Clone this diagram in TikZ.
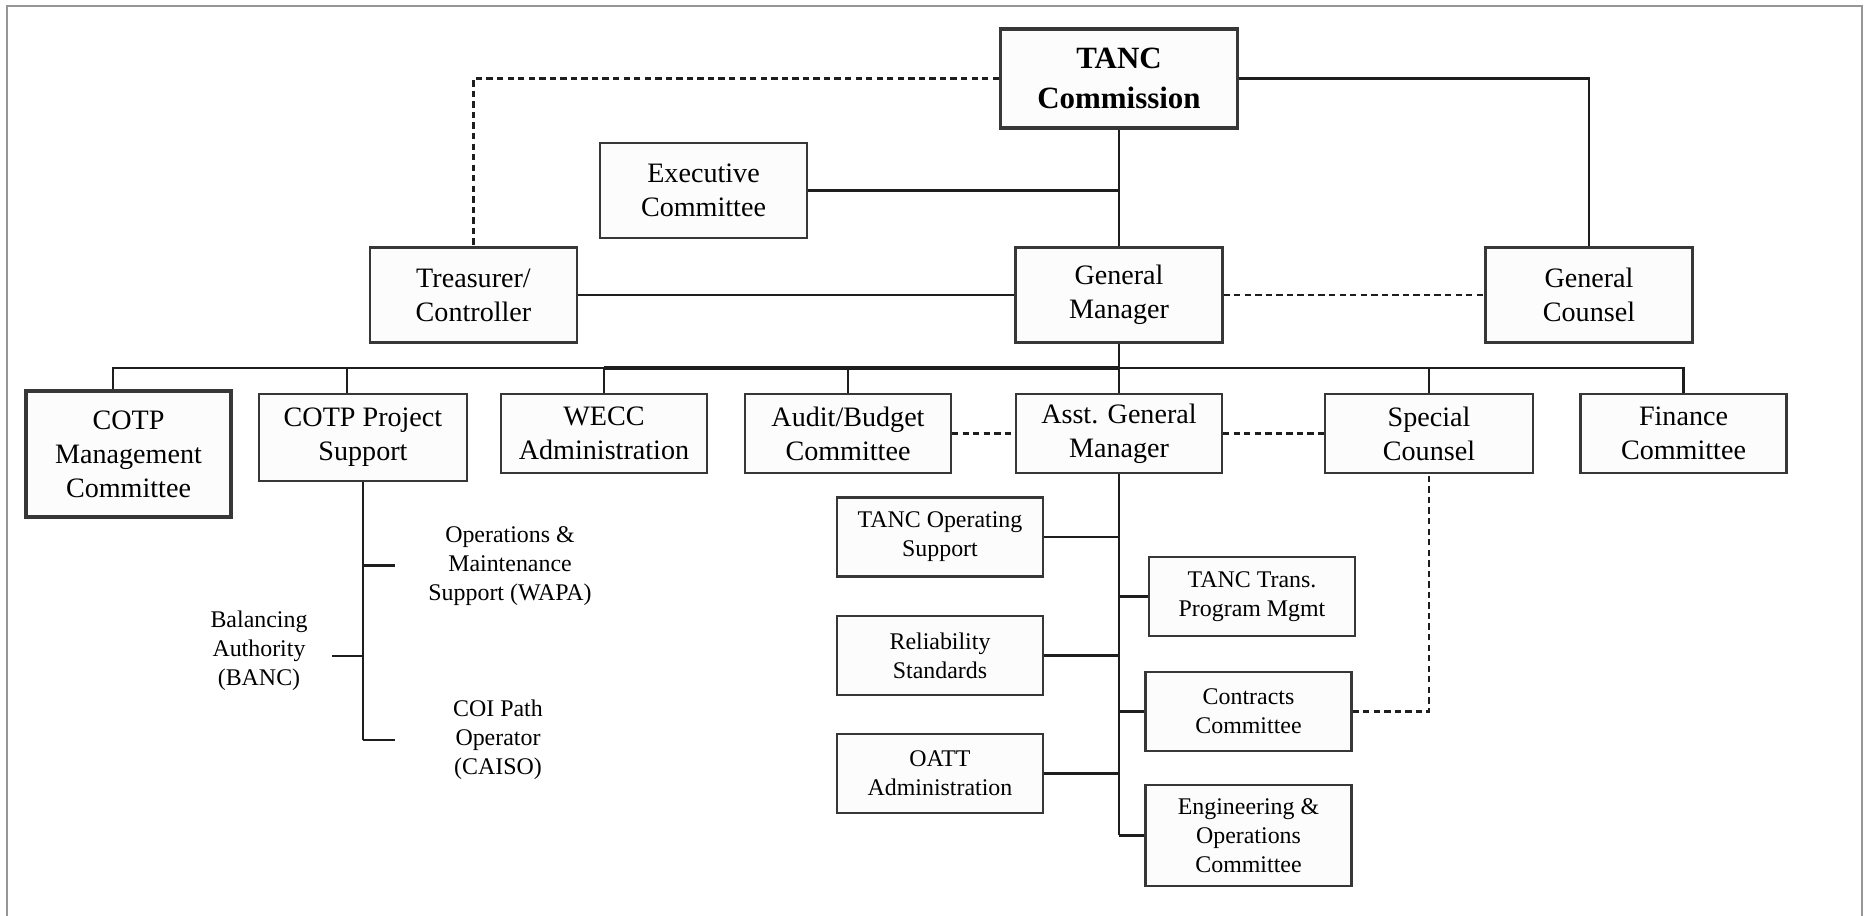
\documentclass[tikz,border=0pt]{standalone}
\usepackage{fontspec}
\setmainfont{Liberation Serif}
\usepackage{xcolor}
\usetikzlibrary{positioning, calc}
\definecolor{boxline}{RGB}{55,55,55}
\definecolor{boxfill}{RGB}{252,252,252}
\definecolor{framegray}{RGB}{150,150,150}
\definecolor{linegray}{RGB}{30,30,30}

\begin{document}
\begin{tikzpicture}[
  unitbox/.style={rectangle, draw=boxline, fill=boxfill, line width=0.6pt,
                  minimum width=2.07cm, minimum height=0.95cm, inner sep=1pt,
                  align=center, font=\fontsize{8}{9.7}\selectfont},
  topbox/.style={unitbox, line width=0.9pt, minimum width=2.37cm,
                 minimum height=0.99cm, font=\fontsize{8.8}{11.4}\selectfont\bfseries},
  midbox/.style={unitbox, minimum width=2.06cm, minimum height=0.79cm},
  subbox/.style={unitbox, minimum width=2.06cm, minimum height=0.79cm,
                 font=\fontsize{6.8}{8.3}\selectfont},
  lbltext/.style={align=center, font=\fontsize{6.8}{8.3}\selectfont, inner sep=0pt},
  conn/.style={line width=0.6pt, draw=linegray},
  dconn/.style={conn, dash pattern=on 1.8pt off 1.2pt}
]

\useasboundingbox (0,0) rectangle (18.64,-9.16);
\draw[framegray, line width=0.8pt] (0.07,-9.16) -- (0.07,-0.06) -- (18.62,-0.06) -- (18.62,-9.16);

% top level
\node[topbox]  (tanc)  at (11.19,-0.785) {TANC\\Commission};
\node[unitbox] (exec)  at (7.035,-1.905) {Executive\\Committee};
\node[unitbox] (treas) at (4.735,-2.95)  {Treasurer/\\Controller};
\node[unitbox] (gm)    at (11.19,-2.95)  {General\\Manager};
\node[unitbox] (gc)    at (15.89,-2.95)  {General\\Counsel};

% second row
\node[unitbox, line width=0.9pt, minimum width=2.05cm, minimum height=1.26cm]
               (cotpm) at (1.285,-4.54)  {COTP\\Management\\Committee};
\node[unitbox, minimum width=2.08cm, minimum height=0.87cm]
               (cotpp) at (3.63,-4.375)  {COTP Project\\Support};
\node[midbox]  (wecc)  at (6.04,-4.335)  {WECC\\Administration};
\node[midbox]  (audit) at (8.48,-4.335)  {Audit/Budget\\Committee};
\node[midbox]  (agm)   at (11.19,-4.335) {Asst. General\\Manager};
\node[midbox, minimum width=2.08cm]
               (spec)  at (14.29,-4.335) {Special\\Counsel};
\node[midbox]  (fin)   at (16.835,-4.335) {Finance\\Committee};

% under the asst. general manager
\node[subbox] (tops)  at (9.40,-5.37)    {TANC Operating\\Support};
\node[subbox] (trans) at (12.52,-5.965)  {TANC Trans.\\Program Mgmt};
\node[subbox] (rel)   at (9.40,-6.555)   {Reliability\\Standards};
\node[subbox] (contr) at (12.485,-7.115) {Contracts\\Committee};
\node[subbox] (oatt)  at (9.40,-7.735)   {OATT\\Administration};
\node[subbox, minimum height=1.01cm]
              (eng)   at (12.485,-8.355) {Engineering \&\\Operations\\Committee};

% under the cotp project support
\node[lbltext] (wapa)  at (5.10,-5.66)  {Operations \&\\Maintenance\\Support (WAPA)};
\node[lbltext] (banc)  at (2.59,-6.51)  {Balancing\\Authority\\(BANC)};
\node[lbltext] (caiso) at (4.98,-7.395) {COI Path\\Operator\\(CAISO)};

\coordinate (busline)   at (0,-3.68);
\coordinate (wapa-end)  at (3.95,-5.655);
\coordinate (banc-end)  at (3.32,-6.56);
\coordinate (caiso-end) at (3.95,-7.40);

\draw[conn]  (tanc) -- (gm);
\draw[conn]  (exec) -- (exec -| tanc);
\draw[dconn] (tanc) -| (treas);
\draw[conn]  (tanc) -| (gc);
\draw[conn]  (treas) -- (gm);
\draw[dconn] (gm) -- (gc);

\draw[conn] ([xshift=-1.55mm]cotpm.north) |- (busline -| fin) -- (fin);
\draw[conn, line width=1.1pt] (wecc |- busline) -- (gm |- busline);
\draw[conn] ([xshift=-1.6mm]cotpp.north) -- ([xshift=-1.6mm]cotpp.north |- busline);
\draw[conn] (wecc)  -- (wecc |- busline);
\draw[conn] (audit) -- (audit |- busline);
\draw[conn] (spec)  -- (spec |- busline);
\draw[conn] (gm) -- (agm);
\draw[dconn] (audit) -- (agm);
\draw[dconn] (agm) -- (spec);

\draw[conn] (agm) -- (agm |- eng);
\draw[conn] (tops)  -- (tops -| agm);
\draw[conn] (trans) -- (trans -| agm);
\draw[conn] (rel)   -- (rel -| agm);
\draw[conn] (contr) -- (contr -| agm);
\draw[conn] (oatt)  -- (oatt -| agm);
\draw[conn] (eng)   -- (eng -| agm);
\draw[dconn] (contr) -| (spec);

\draw[conn] (cotpp) -- (cotpp |- caiso-end);
\draw[conn] (wapa-end -| cotpp) -- (wapa-end);
\draw[conn] (banc-end) -- (banc-end -| cotpp);
\draw[conn] (caiso-end -| cotpp) -- (caiso-end);

\end{tikzpicture}
\end{document}
